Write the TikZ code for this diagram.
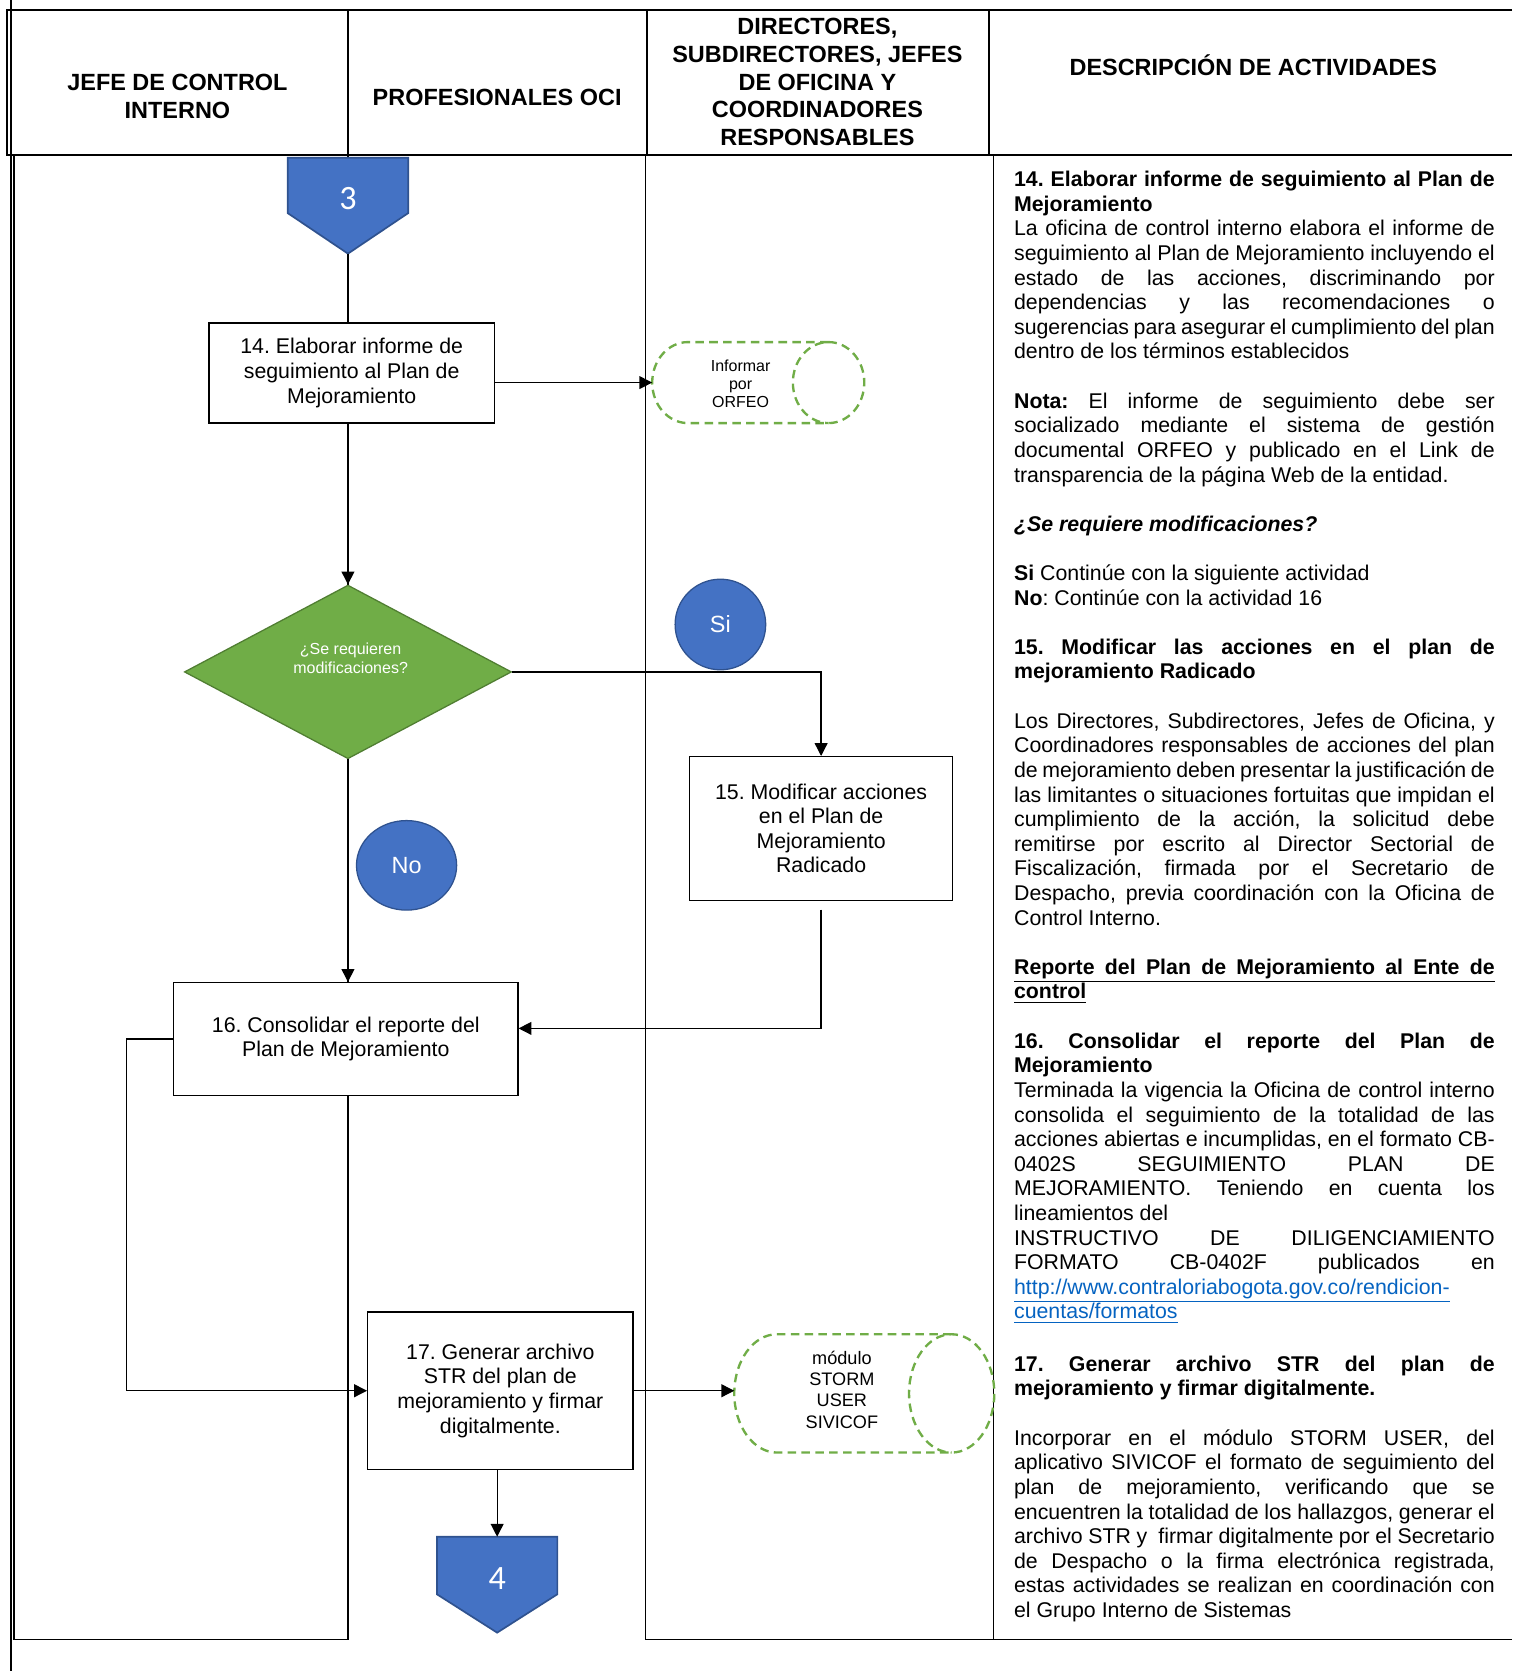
\documentclass[tikz,border=0pt]{standalone}
\usepackage{fontspec}
\setmainfont{Liberation Sans}
\newfontfamily\calibrifont{Carlito}
\usepackage{xcolor}
\usepackage{tikz}
\usetikzlibrary{arrows.meta,positioning,calc,shapes.geometric}

\definecolor{ofcblue}{HTML}{4472C4}
\definecolor{ofcblueline}{HTML}{2F528F}
\definecolor{ofcgreen}{HTML}{70AD47}
\definecolor{ofcgreenline}{HTML}{507E32}
\definecolor{linkblue}{HTML}{0563C1}

\frenchspacing
\newlength\desccolw
\setlength\desccolw{225.5pt}
\newcommand\justline[1]{\makebox[\desccolw][s]{#1}}

\begin{document}
\begin{tikzpicture}[x=0.5pt,y=-0.5pt,>={Triangle[length=6pt,width=6pt]},line width=0.6pt,
  actbox/.style={draw,fill=white,align=center,inner sep=2pt,font=\fontsize{10}{11.5}\selectfont},
  storebox/.style={inner sep=0pt,outer sep=0pt},
  store/.style={draw=ofcgreen,dash pattern=on 4pt off 2.5pt,line width=1.1pt},
  decision/.style={diamond,draw=ofcgreenline,fill=ofcgreen,inner sep=0pt},
  answer/.style={ellipse,draw=ofcblueline,fill=ofcblue,text=white,inner sep=0pt,font=\fontsize{11}{13}\selectfont},
  offpage/.style={draw=ofcblueline,fill=ofcblue,line width=0.8pt},
  offtxt/.style={text=white,font=\calibrifont\fontsize{16}{18}\selectfont},
  hdr/.style={align=center,font=\bfseries\fontsize{11}{13}\selectfont},
  frame/.style={line width=1pt}]
  \useasboundingbox (0,0) rectangle (1419,1568);

  % lanes and header
  \draw (10.3,0) -- (10.3,1568);
  \draw (13.2,145.5) rectangle (326.5,1538.5);
  \draw (605.5,145.5) -- (605.5,1538.5) -- (1419,1538.5);
  \draw (932.5,145.5) -- (932.5,1538.5);
  \draw[frame] (1419,9.5) -- (6.6,9.5) -- (6.6,145.5) -- (1419,145.5);
  \foreach \x in {326.5,607,928}
    \draw[frame] (\x,9.5) -- (\x,145.5);
  \node[hdr] (hjefe) at (166.5,90.5) {JEFE DE CONTROL\\INTERNO};
  \node[hdr] (hprof) at (466.5,91) {PROFESIONALES OCI};
  \node[hdr] (hdir) at (767,77) {DIRECTORES,\\SUBDIRECTORES, JEFES\\DE OFICINA Y\\COORDINADORES\\RESPONSABLES};
  \node[hdr] (hdesc) at (1176,61) {DESCRIPCIÓN DE ACTIVIDADES};

  % off-page connectors
  \filldraw[offpage] (270,148) -- (383,148) -- (383,200) -- (326.5,238) -- (270,200) -- cycle;
  \node[offtxt] (c3) at (326.5,186) {3};
  \coordinate (c3tip) at (326.5,238);
  \filldraw[offpage] (410,1442) -- (523,1442) -- (523,1496) -- (466.5,1532) -- (410,1496) -- cycle;
  \node[offtxt] (c4) at (466.5,1481) {4};
  \coordinate (c4top) at (466.5,1442);

  % activities
  \node[actbox,minimum width=134pt,minimum height=47pt] (b14) at (330,350) {14. Elaborar informe de\\seguimiento al Plan de\\Mejoramiento};
  \node[storebox,minimum width=99.5pt,minimum height=38pt] (orfeo) at (711.5,359) {};
  \draw[store] ([xshift=-16.75pt]orfeo.north east) -- ([xshift=16.75pt]orfeo.north west)
    arc[start angle=90,end angle=270,x radius=16.75pt,y radius=19pt] -- ([xshift=-16.75pt]orfeo.south east)
    arc[start angle=-90,end angle=90,x radius=16.75pt,y radius=19pt]
    arc[start angle=90,end angle=270,x radius=16.75pt,y radius=19pt];
  \node[align=center,font=\fontsize{7.5}{8.6}\selectfont] (orfeotxt) at (695,360) {Informar\\por\\ORFEO};
  \node[decision,minimum width=153.5pt,minimum height=81.5pt] (dec) at (326.5,630.5) {};
  \node[text=white,align=center,font=\fontsize{7.5}{9}\selectfont] (dectxt) at (329,618) {¿Se requieren\\modificaciones?};
  \node[answer,minimum width=42.5pt,minimum height=42.5pt] (si) at (676,586) {Si};
  \node[answer,minimum width=47pt,minimum height=42pt] (no) at (381.5,812) {No};
  \node[actbox,minimum width=123.5pt,minimum height=67.5pt] (b15) at (770.5,777.5) {15. Modificar acciones\\en el Plan de\\Mejoramiento\\Radicado};
  \node[actbox,minimum width=161.5pt,minimum height=53pt] (b16) at (324.5,975) {16. Consolidar el reporte del\\Plan de Mejoramiento};
  \node[actbox,minimum width=124.5pt,minimum height=74pt] (b17) at (469.5,1305) {17. Generar archivo\\STR del plan de\\mejoramiento y firmar\\digitalmente.};
  \node[storebox,minimum width=122pt,minimum height=55.5pt] (storm) at (811,1307.5) {};
  \draw[store] ([xshift=-20pt]storm.north east) -- ([xshift=20pt]storm.north west)
    arc[start angle=90,end angle=270,x radius=20pt,y radius=27.75pt] -- ([xshift=-20pt]storm.south east)
    arc[start angle=-90,end angle=90,x radius=20pt,y radius=27.75pt]
    arc[start angle=90,end angle=270,x radius=20pt,y radius=27.75pt];
  \node[align=center,font=\fontsize{8.5}{10}\selectfont] (stormtxt) at (790,1304) {módulo\\STORM\\USER\\SIVICOF};

  % connectors
  \draw (c3tip) -- (c3tip |- b14.north);
  \draw[->] (b14.east |- orfeo.west) -- (orfeo.west);
  \draw[->] (b14.south -| dec.north) -- (dec.north);
  \draw[->] (dec.east) -| (b15.north);
  \draw[->] (dec.south) -- (dec.south |- b16.north);
  \draw[->,shorten <=4pt] (b15.south) |- ([yshift=5pt]b16.east);
  \draw[->] (b16.west) -- ++(-44,0) |- (b17.west);
  \draw[->] (b17.east) -- (b17.east -| storm.west);
  \draw[->] (c4top |- b17.south) -- (c4top);

  % description column
  \node[anchor=north west,inner sep=0pt,text width=\desccolw,align=left,font=\fontsize{10}{11.55}\selectfont,
    execute at begin node={\spaceskip=0pt\xspaceskip=0pt}] (desc) at (951,160) {%
\justline{\textbf{14. Elaborar informe de seguimiento al Plan de}}\\
\textbf{Mejoramiento}\\
\justline{La oficina de control interno elabora el informe de}\\
\justline{seguimiento al Plan de Mejoramiento incluyendo el}\\
\justline{estado de las acciones, discriminando por}\\
\justline{dependencias y las recomendaciones o}\\
\justline{sugerencias para asegurar el cumplimiento del plan}\\
dentro de los términos establecidos\\[11.55pt]
\justline{\textbf{Nota:} El informe de seguimiento debe ser}\\
\justline{socializado mediante el sistema de gestión}\\
\justline{documental ORFEO y publicado en el Link de}\\
transparencia de la página Web de la entidad.\\[11.55pt]
\textbf{\textit{¿Se requiere modificaciones?}}\\[11.55pt]
\textbf{Si} Continúe con la siguiente actividad\\
\textbf{No}: Continúe con la actividad 16\\[11.55pt]
\justline{\textbf{15. Modificar las acciones en el plan de}}\\
\textbf{mejoramiento Radicado}\\[11.55pt]
\justline{Los Directores, Subdirectores, Jefes de Oficina, y}\\
\justline{Coordinadores responsables de acciones del plan}\\
\justline{de mejoramiento deben presentar la justificación de}\\
\justline{las limitantes o situaciones fortuitas que impidan el}\\
\justline{cumplimiento de la acción, la solicitud debe}\\
\justline{remitirse por escrito al Director Sectorial de}\\
\justline{Fiscalización, firmada por el Secretario de}\\
\justline{Despacho, previa coordinación con la Oficina de}\\
Control Interno.\\[11.55pt]
\underline{\justline{\textbf{Reporte del Plan de Mejoramiento al Ente de}}}\\
\underline{\textbf{control}}\\[11.55pt]
\justline{\textbf{16. Consolidar el reporte del Plan de}}\\
\textbf{Mejoramiento}\\
\justline{Terminada la vigencia la Oficina de control interno}\\
\justline{consolida el seguimiento de la totalidad de las}\\
\justline{acciones abiertas e incumplidas, en el formato CB-}\\
\justline{0402S SEGUIMIENTO PLAN DE}\\
\justline{MEJORAMIENTO. Teniendo en cuenta los}\\
lineamientos del\\
\justline{INSTRUCTIVO DE DILIGENCIAMIENTO}\\
\justline{FORMATO CB-0402F publicados en}\\
{\color{linkblue}\underline{http://www.contraloriabogota.gov.co/rendicion-}}\\
{\color{linkblue}\underline{cuentas/formatos}}\\[13pt]
\justline{\textbf{17. Generar archivo STR del plan de}}\\
\textbf{mejoramiento y firmar digitalmente.}\\[11.55pt]
\justline{Incorporar en el módulo STORM USER, del}\\
\justline{aplicativo SIVICOF el formato de seguimiento del}\\
\justline{plan de mejoramiento, verificando que se}\\
\justline{encuentren la totalidad de los hallazgos, generar el}\\
\justline{archivo STR y \ firmar digitalmente por el Secretario}\\
\justline{de Despacho o la firma electrónica registrada,}\\
\justline{estas actividades se realizan en coordinación con}\\
el Grupo Interno de Sistemas};
\end{tikzpicture}
\end{document}
